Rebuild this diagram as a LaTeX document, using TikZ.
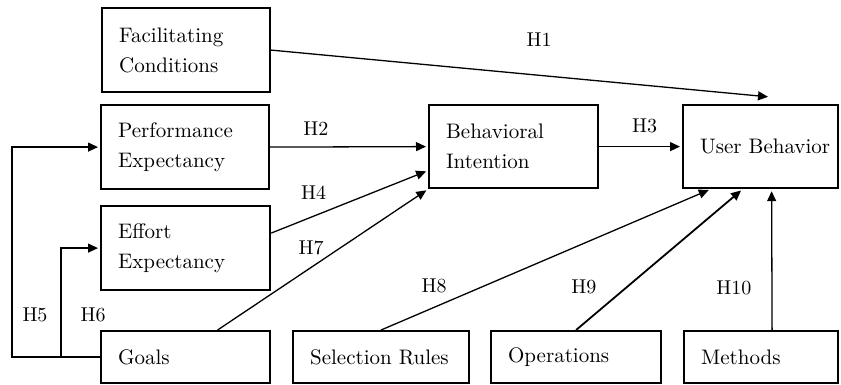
\documentclass[tikz,border=0pt]{standalone}
\usetikzlibrary{arrows.meta}
\begin{document}
\begin{tikzpicture}[x=0.5pt, y=-0.5pt,
    factor/.style 2 args={draw, line width=1.1pt, anchor=north west, align=left,
      inner xsep=8.5pt, inner ysep=0pt, text width=#1, minimum height=#2,
      font=\fontsize{10.5}{15}\selectfont},
    conn/.style={-{Triangle[length=5pt, width=4.5pt]}, line width=0.65pt, shorten >=1pt},
    hyp/.style={font=\fontsize{10}{12}\selectfont, inner sep=1pt}]
    \useasboundingbox (0,0) rectangle (841,385);
    % left column
    \node [factor={67pt}{42pt}] (facil) at (101,7) {Facilitating\\Conditions};
    \node [factor={67pt}{42pt}] (perf) at (100,104) {Performance\\Expectancy};
    \node [factor={67.5pt}{42pt}] (effort) at (100,205) {Effort\\Expectancy};
    \node [factor={67.5pt}{26pt}] (goals) at (100,330) {Goals};
    % bottom row
    \node [factor={71pt}{26pt}] (selrules) at (292,330) {\mbox{Selection Rules}};
    \node [factor={68pt}{26pt}] (oper) at (490,330) {Operations};
    \node [factor={60pt}{26pt}] (meth) at (683,330) {Methods};
    % middle and right
    \node [factor={67.5pt}{41.5pt}] (intent) at (428,104) {Behavioral\\Intention};
    \node [factor={60.5pt}{41.5pt}] (userbeh) at (682,104) {\mbox{User Behavior}};
    \coordinate (h1tip) at (770,97);
    % hypotheses
    \draw [conn] (facil.east) -- node [hyp, pos=.537, yshift=18pt] {H1} (h1tip);
    \draw [conn] (perf.east) -- node [hyp, pos=.29, yshift=9pt] {H2} (intent.west);
    \draw [conn] (intent.east) -- node [hyp, pos=.55, yshift=10.5pt] {H3} (userbeh.west);
    \draw [conn] ([yshift=7.5pt]effort.east) -- node [hyp, pos=.27, yshift=12pt] {H4} ([yshift=-12pt]intent.west);
    \draw [conn] (goals.west) -- ++(-44pt,0) |- node [hyp, pos=.1, xshift=11.5pt] {H5} (perf.west);
    \draw [conn] ([xshift=-19.5pt]goals.west) |- node [hyp, pos=.194, xshift=16pt] {H6} (effort.west);
    \draw [conn] ([xshift=16pt]goals.north) -- node [hyp, pos=.445, yshift=9.7pt] {H7} (intent.south west);
    \draw [conn] (selrules.north) -- node [hyp, pos=.31, xshift=-24.5pt] {H8} ([xshift=-25pt]userbeh.south);
    \draw [conn, line width=0.9pt] (oper.north) -- node [hyp, pos=.305, xshift=-21.5pt] {H9} ([xshift=-9pt]userbeh.south);
    \draw [conn] ([xshift=5.5pt]meth.north) -- node [hyp, pos=.3, xshift=-19pt] {H10} ([xshift=5.5pt]userbeh.south);
\end{tikzpicture}
\end{document}
